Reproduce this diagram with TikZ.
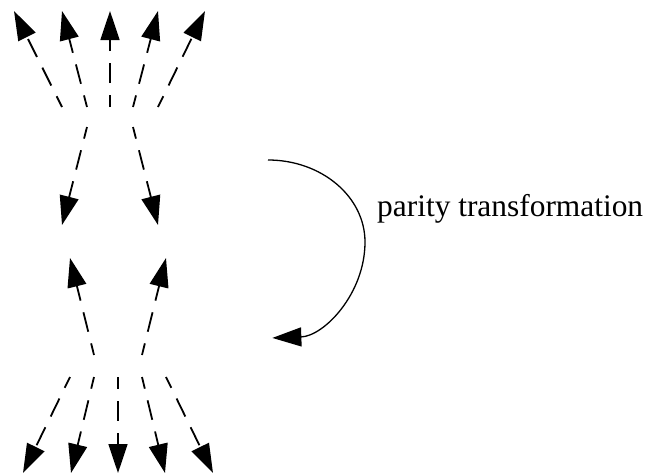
\documentclass[tikz,border=0pt]{standalone}
\usepackage{fontspec}
\setmainfont{Liberation Serif}
\usetikzlibrary{arrows.meta}
\begin{document}
\begin{tikzpicture}[x=1pt,y=-1pt,
  ray/.style={line width=1.8pt, dash pattern=on 20pt off 12pt, dash phase=8pt,
    -{Triangle[length=29pt,width=19pt]}},
  turn/.style={line width=1.3pt, -{Triangle[length=29pt,width=19pt]}},
  label/.style={anchor=base west, inner sep=0pt, font=\fontsize{31.4}{36}\selectfont}]
\useasboundingbox (0,0) rectangle (646,474);

% upper fan of five rays
\foreach \n/\ox/\tx in {1/62/14, 2/87/62, 3/110/110, 4/133/158, 5/158/205} {
  \coordinate (uo\n) at (\ox,107);
  \coordinate (ut\n) at (\tx,11);
  \draw[ray] (uo\n) -- (ut\n);
}

% upper pair pointing down
\coordinate (ua) at (87,127);   \coordinate (uat) at (62,225);
\coordinate (ub) at (133,127);  \coordinate (ubt) at (158,225);
\draw[ray] (ua) -- (uat);
\draw[ray] (ub) -- (ubt);

% lower pair pointing up
\coordinate (la) at (94,355);   \coordinate (lat) at (70,258);
\coordinate (lb) at (142,355);  \coordinate (lbt) at (166,258);
\draw[ray] (la) -- (lat);
\draw[ray] (lb) -- (lbt);

% lower fan of five rays
\foreach \n/\ox/\tx in {1/70/23, 2/94/71, 3/118/118, 4/142/165, 5/166/213} {
  \coordinate (lo\n) at (\ox,377);
  \coordinate (lt\n) at (\tx,473);
  \draw[ray] (lo\n) -- (lt\n);
}

% curved arrow of the transformation
\coordinate (ps) at (268,160);
\draw[turn] (ps) arc[start angle=-90, end angle=0, x radius=97, y radius=82]
                 arc[start angle=0, end angle=88, radius=96];

\node[label] (lbl) at (377,216) {parity transformation};
\end{tikzpicture}
\end{document}
